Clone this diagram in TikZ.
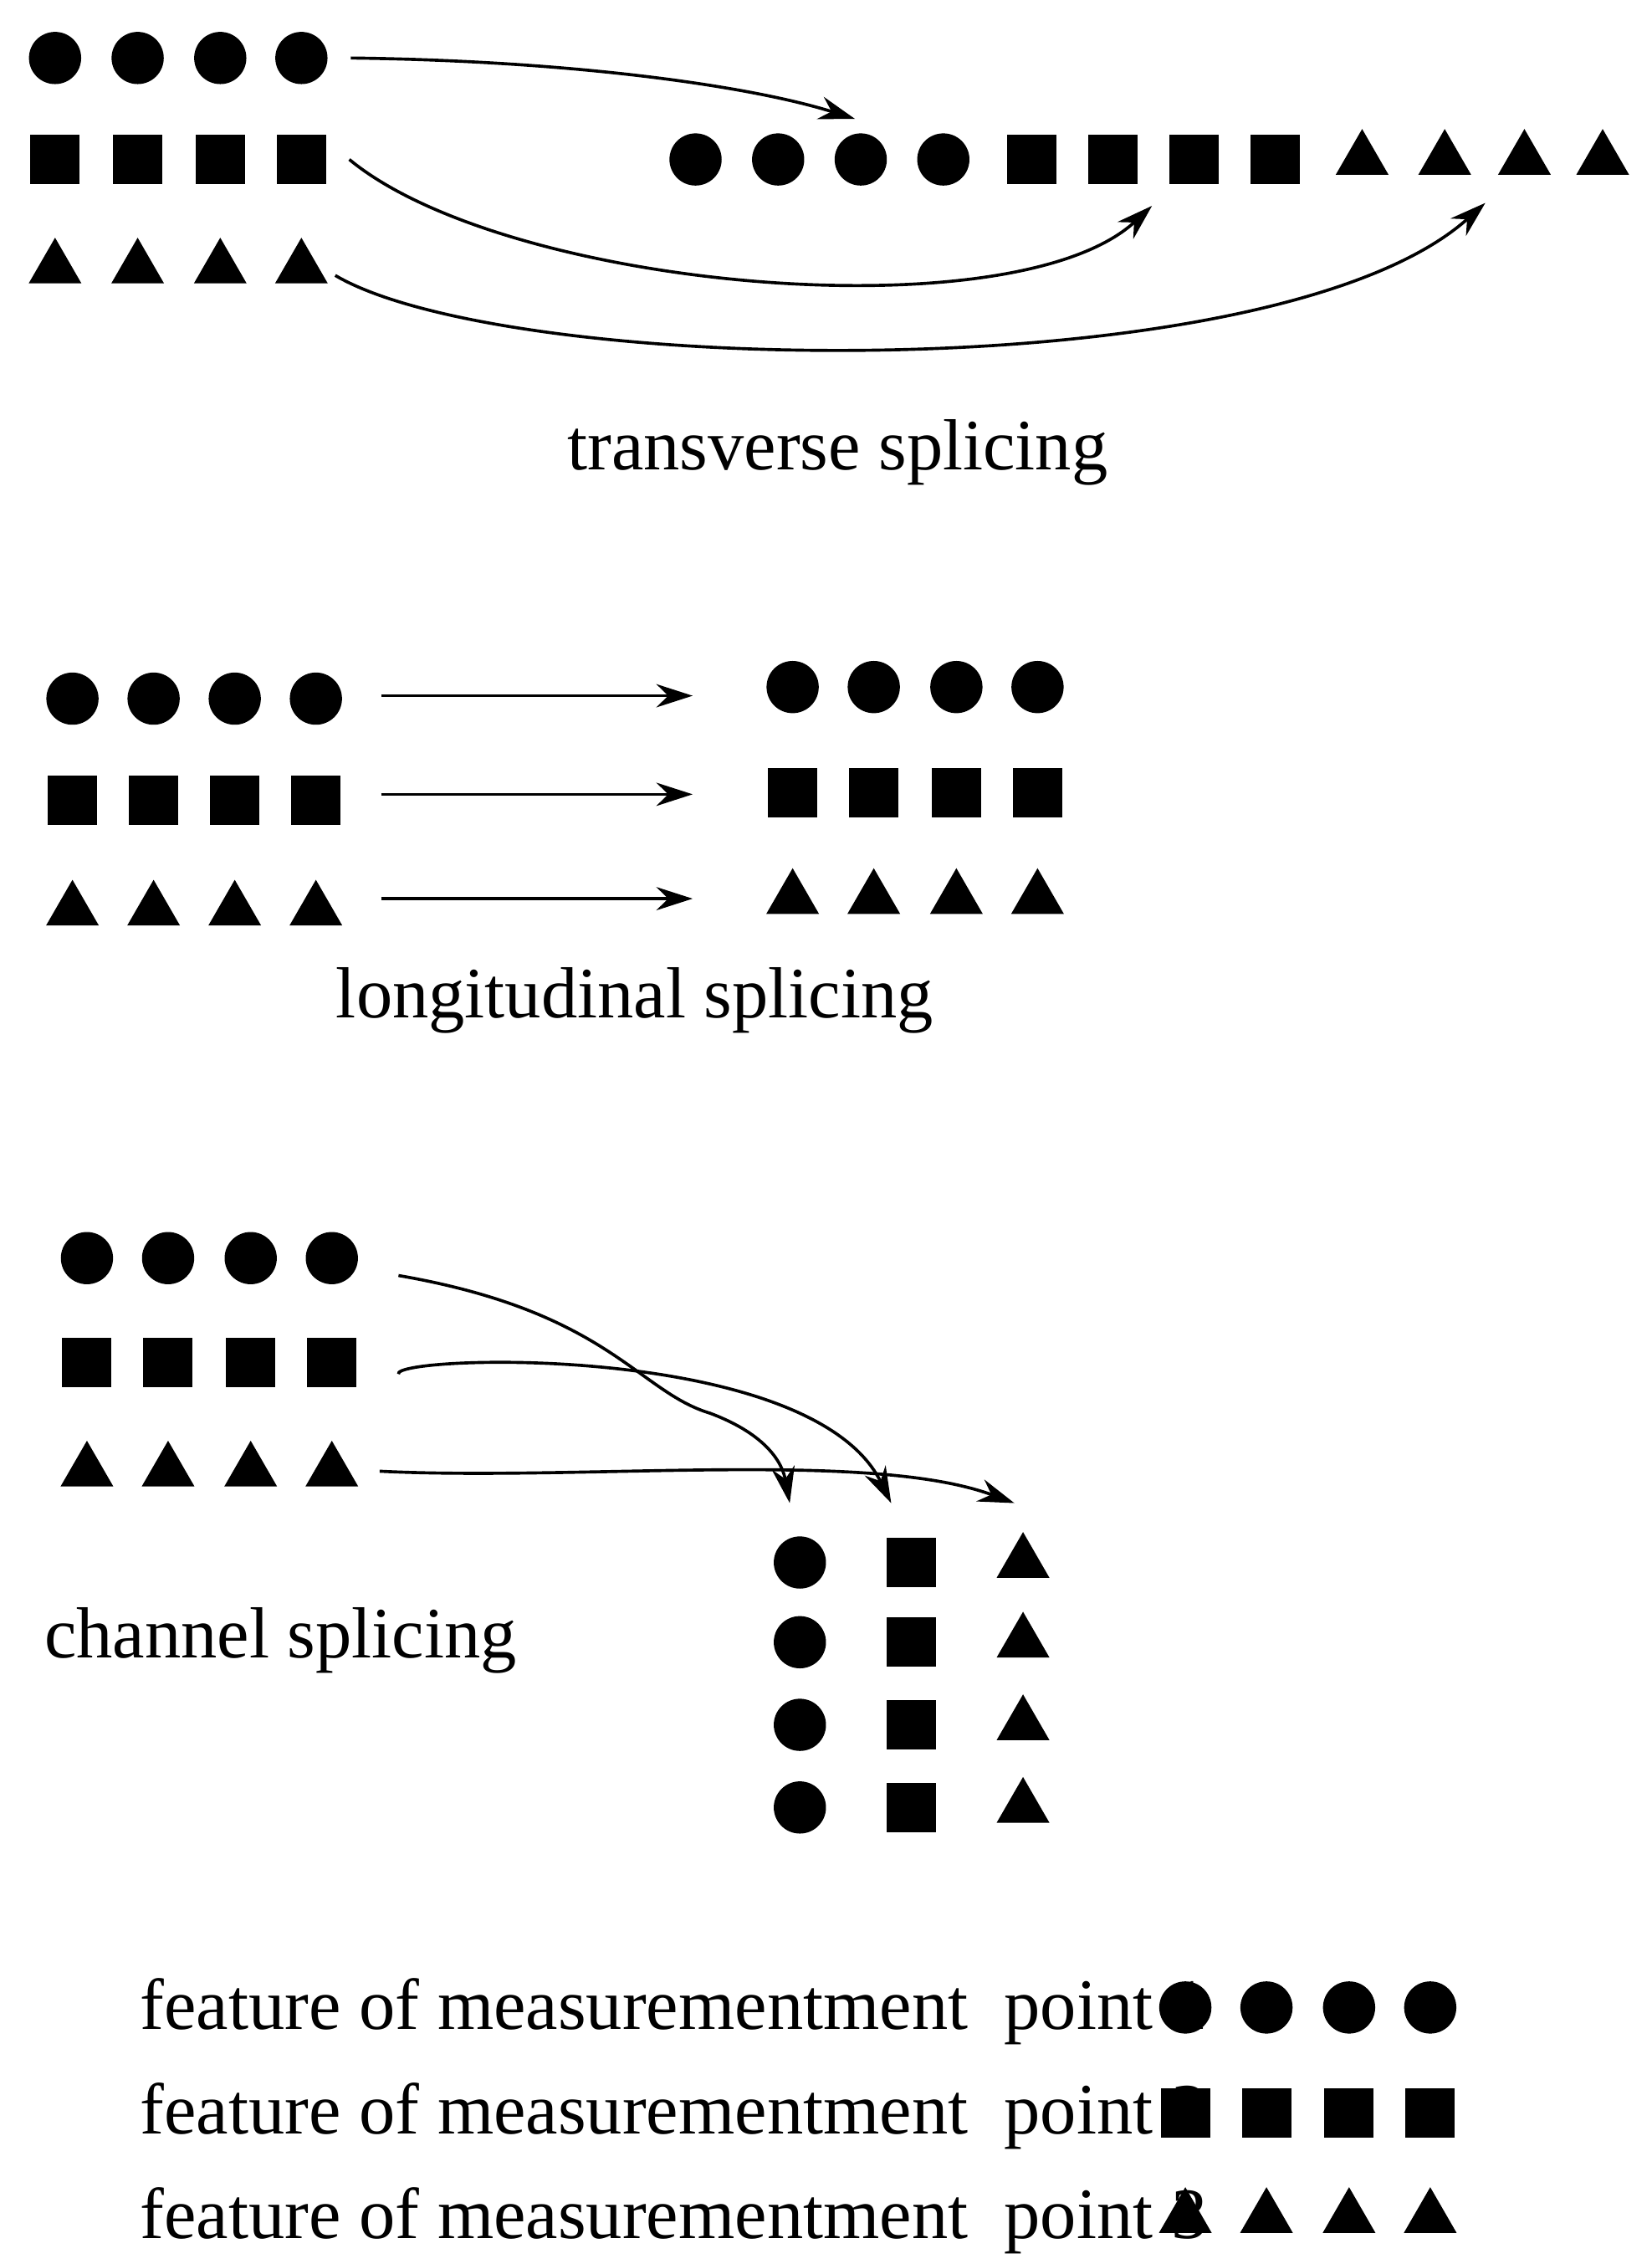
\documentclass[tikz,border=0pt]{standalone}
\usepackage{fontspec}
\setmainfont{Liberation Serif}
\usetikzlibrary{shapes.geometric,arrows.meta}
\tikzset{
  dot/.style={circle, fill, inner sep=0pt, minimum size=0.36cm},
  sq/.style={rectangle, fill, inner sep=0pt, minimum size=0.34cm},
  tri/.style={regular polygon, regular polygon sides=3, fill, inner sep=0pt, minimum size=0.42cm},
  lbl/.style={font=\fontsize{14.2pt}{17pt}\selectfont},
}
\begin{document}
\begin{tikzpicture}[x=0.01cm, y=-0.01cm, >={Stealth[length=0.25cm,width=0.16cm]}, semithick]
  \useasboundingbox (0,0) rectangle (1140,1562);

  % transverse splicing
  \foreach \i/\x in {1/38,2/95,3/152,4/208} {
    \node[dot] (tc\i) at (\x,40) {};
    \node[sq] (ts\i) at (\x,110) {};
    \node[tri] (tt\i) at (\x,185) {};
  }
  \foreach \i/\x in {1/480,2/537,3/594,4/651} \node[dot] (rc\i) at (\x,110) {};
  \foreach \i/\x in {1/712,2/768,3/824,4/880} \node[sq] (rs\i) at (\x,110) {};
  \foreach \i/\x in {1/940,2/997,3/1052,4/1106} \node[tri] (rt\i) at (\x,110) {};
  \coordinate (a1) at (590,82);
  \coordinate (a2) at (795,142);
  \coordinate (a3) at (1025,140);
  \draw[->] (tc4.east) ++(15,0) .. controls (400,42) and (520,60) .. (a1);
  \draw[->] (ts4.east) ++(15,0) .. controls (350,200) and (700,230) .. (a2);
  \draw[->] (tt4.east) ++(10,5) .. controls (350,260) and (880,270) .. (a3);
  \node[lbl] (ttext) at (578,312) {transverse splicing};

  % longitudinal splicing
  \foreach \i/\x/\u in {1/50/547,2/106/603,3/162/660,4/218/716} {
    \node[dot] (lc\i) at (\x,482) {};
    \node[sq] (ls\i) at (\x,552) {};
    \node[tri] (lt\i) at (\x,628) {};
    \node[dot] (mc\i) at (\u,474) {};
    \node[sq] (ms\i) at (\u,547) {};
    \node[tri] (mt\i) at (\u,620) {};
  }
  \draw[->] (263,480) -- (478,480);
  \draw[->] (263,548) -- (478,548);
  \draw[->] (263,620) -- (478,620);
  \node[lbl] (ltext) at (438,690) {longitudinal splicing};

  % channel splicing
  \foreach \i/\x in {1/60,2/116,3/173,4/229} {
    \node[dot] (cc\i) at (\x,868) {};
    \node[sq] (cs\i) at (\x,940) {};
    \node[tri] (ct\i) at (\x,1015) {};
  }
  \foreach \i/\y in {1/1078,2/1133,3/1190,4/1247} {
    \node[dot] (gc\i) at (552,\y) {};
    \node[sq] (gs\i) at (629,\y) {};
    \node[tri] (gt\i) at (706,\y) {};
  }
  \coordinate (b1) at (545,1037);
  \coordinate (b2) at (615,1037);
  \coordinate (b3) at (700,1037);
  \draw[->] (275,880) .. controls (420,905) and (440,960) .. (490,975) .. controls (530,990) and (540,1010) .. (b1);
  \draw[->] (275,948) .. controls (270,935) and (560,925) .. (b2);
  \draw[->] (262,1015) .. controls (400,1022) and (600,1000) .. (b3);
  \node[lbl, anchor=west] (ctext) at (18,1132) {channel splicing};

  % legend
  \foreach \j/\y in {1/1388,2/1460,3/1532} {
    \node[lbl, anchor=west] (leg\j) at (84,\y) {feature of measurementment\ \ point \j};
  }
  \foreach \i/\x in {1/818,2/874,3/931,4/987} {
    \node[dot] (kc\i) at (\x,1385) {};
    \node[sq] (ks\i) at (\x,1458) {};
    \node[tri] (kt\i) at (\x,1530) {};
  }
\end{tikzpicture}
\end{document}
